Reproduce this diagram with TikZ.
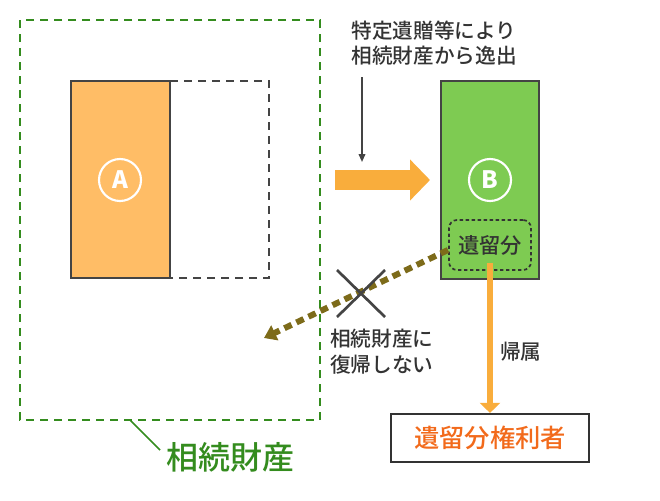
\documentclass[tikz,border=0pt]{standalone}
\usepackage{fontspec}
\setmainfont{Noto Sans CJK JP Medium}
\usetikzlibrary{arrows.meta}
\definecolor{grn}{RGB}{52,140,30}
\definecolor{gfill}{RGB}{126,203,82}
\definecolor{ofill}{RGB}{255,189,102}
\definecolor{oarrow}{RGB}{249,173,60}
\definecolor{ored}{RGB}{242,106,27}
\definecolor{olive}{RGB}{125,107,26}
\definecolor{dk}{RGB}{68,68,68}
\definecolor{txt}{RGB}{51,51,51}
\tikzset{
  x=0.75pt,y=-0.75pt,
  lbl/.style={font=\fontsize{15.5pt}{19pt}\selectfont,text=txt,inner sep=0pt,align=left},
  circ/.style={circle,draw=white,line width=1.6pt,minimum size=31.5pt,inner sep=0pt,text=white,font=\fontsize{18pt}{18pt}\selectfont\bfseries},
}
\begin{document}
\begin{tikzpicture}
\useasboundingbox (0,0) rectangle (660,500);
% green dashed estate
\draw[grn,line width=1.5pt,dash pattern=on 6pt off 4.5pt] (20,20) rectangle (320,420);
\coordinate (lead) at (130,420);
\node[font=\fontsize{24pt}{28pt}\selectfont,text=grn,anchor=west,inner sep=0pt] (est) at (166,457) {相続財産};
\draw[grn,line width=1.2pt] (lead) -- (160,450);
% A
\draw[dk,line width=1.5pt,dash pattern=on 6pt off 4.5pt] (170,81) -- (269,81) -- (269,278) -- (170,278);
\node[draw=dk,fill=ofill,line width=1.8pt,minimum width=74.25pt,minimum height=147.75pt,inner sep=0pt] (A) at (120.5,179.5) {};
\node[circ] (cA) at (120,180) {A};
% B
\node[draw=dk,fill=gfill,line width=1.8pt,minimum width=73.5pt,minimum height=148.5pt,inner sep=0pt] (B) at (490,180) {};
\node[circ] (cB) at (490,180) {B};
\node[draw=txt,line width=1.3pt,dash pattern=on 2.5pt off 2pt,rounded corners=6pt,minimum width=61.5pt,minimum height=37.5pt,inner sep=0pt] (rem) at (490,245) {};
\node[font=\fontsize{16pt}{16pt}\selectfont,text=txt,inner sep=0pt] (remt) at (490,245) {遺留分};
% big orange arrow
\coordinate (bs) at (335,180);
\coordinate (be) at (430,180);
\draw[oarrow,line width=15pt,-{Triangle[length=15pt,width=30pt]}] (bs) -- (be);
% top label and thin arrow
\node[lbl] (top) at (434,43) {特定遺贈等により\\相続財産から逸出};
\coordinate (ts) at (362,77);
\coordinate (te) at (362,162);
\draw[dk,line width=1.2pt,-{Triangle[length=6pt,width=5pt]}] (ts) -- (te);
% dotted olive arrow
\coordinate (ds) at (448,250);
\coordinate (de) at (264,338);
\draw[olive,line width=4.5pt,dash pattern=on 6pt off 4pt,-{Triangle[length=9pt,width=12pt]}] (ds) -- (de);
% X
\coordinate (x1) at (337,270);
\coordinate (x2) at (385,317);
\coordinate (x3) at (385,270);
\coordinate (x4) at (337,317);
\draw[dk,line width=2pt] (x1) -- (x2);
\draw[dk,line width=2pt] (x3) -- (x4);
\node[lbl,anchor=north west] (no) at (330,329) {相続財産に\\復帰しない};
% heir
\node[draw=txt,line width=1.6pt,minimum width=148.5pt,minimum height=36pt,inner sep=0pt,font=\fontsize{19pt}{19pt}\selectfont,text=ored] (heir) at (490,438) {遺留分権利者};
\coordinate (os) at (490,263);
\draw[oarrow,line width=4pt,-{Triangle[length=7.5pt,width=15pt]}] (os) -- (heir.north);
\node[lbl,anchor=west] (kz) at (500,352) {帰属};
\end{tikzpicture}
\end{document}
